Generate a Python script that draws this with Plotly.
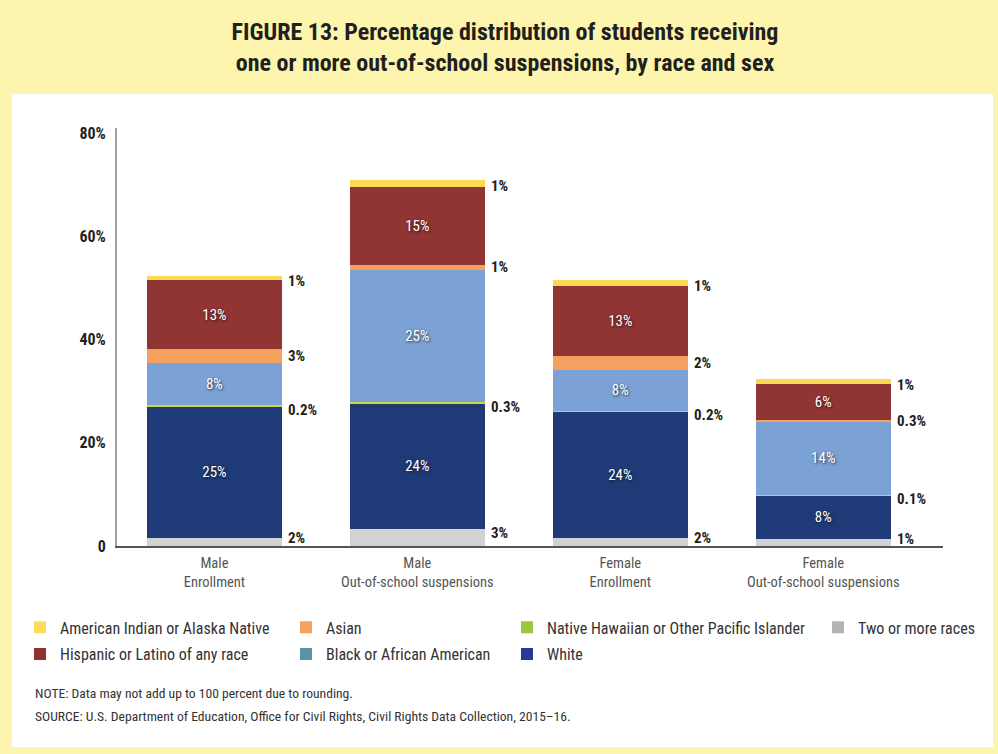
import plotly.graph_objects as go

categories = ["Male<br>Enrollment", "Male<br>Out-of-school suspensions",
              "Female<br>Enrollment", "Female<br>Out-of-school suspensions"]

# stacked from bottom to top
two_or_more = [1.5, 3.3, 1.5, 1.3]
white = [25.6, 24.3, 24.5, 8.5]
nh_pi = [0.2, 0.3, 0.2, 0.1]
black = [8.2, 25.6, 8.0, 14.2]
asian = [2.6, 1.0, 2.7, 0.3]
hispanic = [13.5, 15.1, 13.4, 6.9]
am_indian = [0.7, 1.4, 1.2, 1.0]

two_lbl = ["2%", "3%", "2%", "1%"]
white_lbl = ["25%", "24%", "24%", "8%"]
nh_lbl = ["0.2%", "0.3%", "0.2%", "0.1%"]
black_lbl = ["8%", "25%", "8%", "14%"]
asian_lbl = ["3%", "1%", "2%", "0.3%"]
hisp_lbl = ["13%", "15%", "13%", "6%"]
ai_lbl = ["1%", "1%", "1%", "1%"]

y_ticks = [0, 20, 40, 60, 80]
y_ticktext = ["0", "20%", "40%", "60%", "80%"]

FONT = "Liberation Sans Narrow, Roboto Condensed, DejaVu Sans Condensed, Arial Narrow, sans-serif"

series = [
    # name, values, bar color, legend color, inside label list, outside label list
    ("Two or more races", two_or_more, "#d1d2d4", "#b2b4b7", None, two_lbl),
    ("White", white, "#1f3b77", "#27399b", white_lbl, None),
    ("Native Hawaiian or Other Pacific Islander", nh_pi, "#cdd93a", "#98c93c", None, nh_lbl),
    ("Black or African American", black, "#7ca2d5", "#5a93a8", black_lbl, None),
    ("Asian", asian, "#f5a05f", "#f8a05e", None, asian_lbl),
    ("Hispanic or Latino of any race", hispanic, "#913534", "#8e3131", hisp_lbl, None),
    ("American Indian or Alaska Native", am_indian, "#fcd952", "#fddc5a", None, ai_lbl),
]

fig = go.Figure()
BAR_W = 0.665
cum = [0.0] * len(categories)
annotations = []
label_shift = {
    "Two or more races": 4,
    "Native Hawaiian or Other Pacific Islander": -4,
    "Asian": 0,
    "American Indian or Alaska Native": -3,
}
for name, vals, col, lcol, inside, outside in series:
    fig.add_trace(go.Bar(
        x=categories, y=vals, name=name, width=BAR_W,
        marker=dict(color=col, line=dict(width=0)),
        text=inside if inside else None,
        texttemplate="%{text}" if inside else None,
        textposition="inside" if inside else "none",
        insidetextanchor="middle",
        textfont=dict(family=FONT, size=15, color="white",
                      shadow="1px 1px 3px rgba(0,0,0,0.75)"),
        showlegend=False, hoverinfo="skip",
    ))
    if outside:
        for i, c in enumerate(categories):
            annotations.append(dict(
                x=c, y=cum[i] + vals[i] / 2, xref="x", yref="y",
                text="<b>" + outside[i] + "</b>", showarrow=False,
                xanchor="left", yanchor="middle",
                xshift=BAR_W / 2 * 203 + 4, yshift=label_shift[name],
                font=dict(family=FONT, size=15, color="#231f20"),
            ))
    cum = [a + b for a, b in zip(cum, vals)]

# legend-only traces (legend swatch colours differ from bars)
legend_cols = {
    "legend": ["American Indian or Alaska Native", "Hispanic or Latino of any race"],
    "legend2": ["Asian", "Black or African American"],
    "legend3": ["Native Hawaiian or Other Pacific Islander", "White"],
    "legend4": ["Two or more races"],
}
lcolor = {s[0]: s[3] for s in series}
for lg, names in legend_cols.items():
    for n in names:
        fig.add_trace(go.Bar(x=[None], y=[None], name=n, legend=lg, legendgroup=n,
                             marker=dict(color=lcolor[n], line=dict(width=0)),
                             showlegend=True, hoverinfo="skip"))

def px_x(p):
    return (p - 117) / 826.0

def px_y(p):
    return (546.5 - p) / 418.5

leg_common = dict(yanchor="top", xanchor="left", y=px_y(611), tracegroupgap=3,
                  bgcolor="rgba(0,0,0,0)", borderwidth=0,
                  font=dict(family=FONT, size=16, color="#333333"),
                  orientation="v", itemclick=False, itemdoubleclick=False)

# background panel
shapes = [
    dict(type="rect", xref="paper", yref="paper",
         x0=px_x(12), x1=px_x(993), y0=px_y(748), y1=px_y(94),
         fillcolor="white", line=dict(width=0), layer="below"),
]

annotations += [
    dict(text="NOTE: Data may not add up to 100 percent due to rounding.",
         xref="paper", yref="paper", x=px_x(33), y=px_y(694),
         xanchor="left", yanchor="middle", showarrow=False,
         font=dict(family=FONT, size=13.6, color="#333333")),
    dict(text="SOURCE: U.S. Department of Education, Office for Civil Rights, Civil Rights Data Collection, 2015\u201316.",
         xref="paper", yref="paper", x=px_x(33), y=px_y(717),
         xanchor="left", yanchor="middle", showarrow=False,
         font=dict(family=FONT, size=13.6, color="#333333")),
]

fig.update_layout(
    width=998, height=754,
    margin=dict(l=117, r=55, t=128, b=207.5, pad=0),
    paper_bgcolor="#fdf5ad", plot_bgcolor="white",
    barmode="stack", bargap=0.3,
    title=dict(text="<b>FIGURE 13: Percentage distribution of students receiving<br>one or more out-of-school suspensions, by race and sex</b>",
               x=0.506, xref="container", xanchor="center",
               y=1 - 40 / 754, yref="container", yanchor="middle",
               font=dict(family=FONT, size=24, color="#231f20")),
    xaxis=dict(type="category", range=[-0.48, 3.59], showgrid=False,
               showline=True, linecolor="#555555", linewidth=1.5,
               ticks="", ticklabelstandoff=3,
               tickfont=dict(family=FONT, size=14.5, color="#555555"),
               fixedrange=True),
    yaxis=dict(range=[0, 81], tickvals=y_ticks, ticktext=["<b>%s</b>" % t for t in y_ticktext],
               showgrid=False, zeroline=False, showline=True, linecolor="#a0a0a0",
               linewidth=2, ticks="", ticklabelstandoff=6,
               tickfont=dict(family=FONT, size=16, color="#231f20"), fixedrange=True),
    legend=dict(x=px_x(20), **leg_common),
    legend2=dict(x=px_x(286), **leg_common),
    legend3=dict(x=px_x(507), **leg_common),
    legend4=dict(x=px_x(818), **leg_common),
    shapes=shapes,
    annotations=annotations,
)

fig.write_html("out.html")
